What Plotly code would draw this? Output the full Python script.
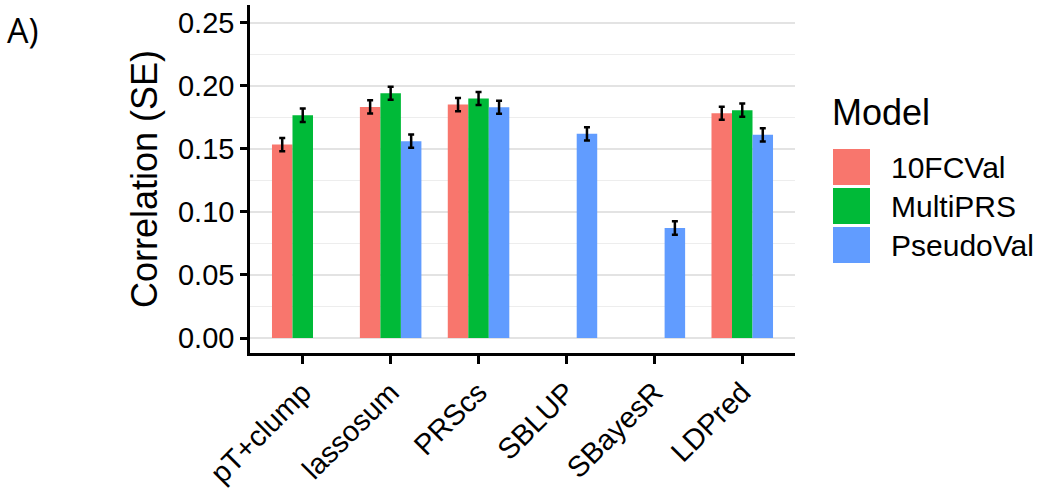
import plotly.graph_objects as go

methods = ["pT+clump", "lassosum", "PRScs", "SBLUP", "SBayesR", "LDPred"]
models = ["10FCVal", "MultiPRS", "PseudoVal"]
colors = ["#F8766D", "#00BA38", "#619CFF"]

val_10fcval = [0.1534, 0.1833, 0.1851, None, None, 0.1783]
val_multiprs = [0.1767, 0.1941, 0.1899, None, None, 0.1807]
val_pseudoval = [None, 0.1561, 0.1830, 0.1619, 0.0872, 0.1611]

se_10fcval = [0.0052, 0.0053, 0.0052, None, None, 0.0052]
se_multiprs = [0.0053, 0.0052, 0.0052, None, None, 0.0052]
se_pseudoval = [None, 0.0052, 0.0052, 0.0052, 0.0053, 0.0052]

values = [val_10fcval, val_multiprs, val_pseudoval]
ses = [se_10fcval, se_multiprs, se_pseudoval]

FONT = "Liberation Sans, Arial, sans-serif"

fig = go.Figure()
for name, col, v, s in zip(models, colors, values, ses):
    fig.add_trace(go.Bar(
        x=methods, y=v, name=name, marker=dict(color=col, line=dict(width=0)),
        error_y=dict(type="data", array=s, color="black", thickness=2.5, width=3),
        showlegend=False,
    ))

W, H = 1045, 488
L, R, T, B = 250, 795, 5, 353

def px_x(px):
    return (px - L) / (R - L)

def px_y(py):
    return (B - py) / (B - T)

shapes = []
annotations = []
# custom legend (ggplot-style large keys)
rows = [(149, 185), (188, 224), (227, 263)]
for (y0, y1), name, col in zip(rows, models, colors):
    shapes.append(dict(type="rect", xref="paper", yref="paper",
                       x0=px_x(833), x1=px_x(870), y0=px_y(y1), y1=px_y(y0),
                       fillcolor=col, line=dict(width=0)))
    annotations.append(dict(xref="paper", yref="paper", x=px_x(889), y=px_y((y0 + y1) / 2),
                            text=name, showarrow=False, xanchor="left", yanchor="middle",
                            font=dict(family=FONT, size=30, color="black")))
annotations.append(dict(xref="paper", yref="paper", x=px_x(830), y=px_y(113),
                        text="Model", showarrow=False, xanchor="left", yanchor="middle",
                        font=dict(family=FONT, size=36, color="black")))
annotations.append(dict(xref="paper", yref="paper", x=px_x(5), y=px_y(30),
                        text="A)", showarrow=False, xanchor="left", yanchor="middle",
                        font=dict(family="Open Sans, sans-serif", size=34, color="black")))

fig.update_layout(
    width=W, height=H,
    margin=dict(l=L, r=W - R, t=T, b=H - B, pad=0, autoexpand=False),
    paper_bgcolor="white", plot_bgcolor="white",
    barmode="group", bargap=0.3, bargroupgap=0,
    font=dict(family=FONT, color="black"),
    shapes=shapes, annotations=annotations,
    showlegend=False,
)
fig.update_xaxes(
    range=[-0.6, 5.6], showgrid=False, zeroline=False, automargin=False,
    showline=True, linecolor="black", linewidth=2.5,
    ticks="outside", ticklen=8, tickwidth=2.5, tickcolor="black",
    tickangle=-45, tickfont=dict(family=FONT, size=29, color="black"),
)
fig.update_yaxes(
    range=[-0.0119, 0.2641], tick0=0, dtick=0.05, tickformat=".2f", automargin=False,
    showgrid=True, gridcolor="#e3e3e3", gridwidth=2,
    minor=dict(dtick=0.025, tick0=0, showgrid=True, gridcolor="#ededed", gridwidth=1, ticks=""),
    zeroline=False, showline=True, linecolor="black", linewidth=2.5,
    ticks="outside", ticklen=7, tickwidth=2.5, tickcolor="black",
    tickfont=dict(family=FONT, size=29, color="black"),
    title=dict(text="Correlation (SE)", font=dict(family=FONT, size=36, color="black"), standoff=10),
)

fig.write_html("out.html", config={"displayModeBar": False},
               post_script="document.body.style.margin='0';document.body.style.overflow='hidden';")
